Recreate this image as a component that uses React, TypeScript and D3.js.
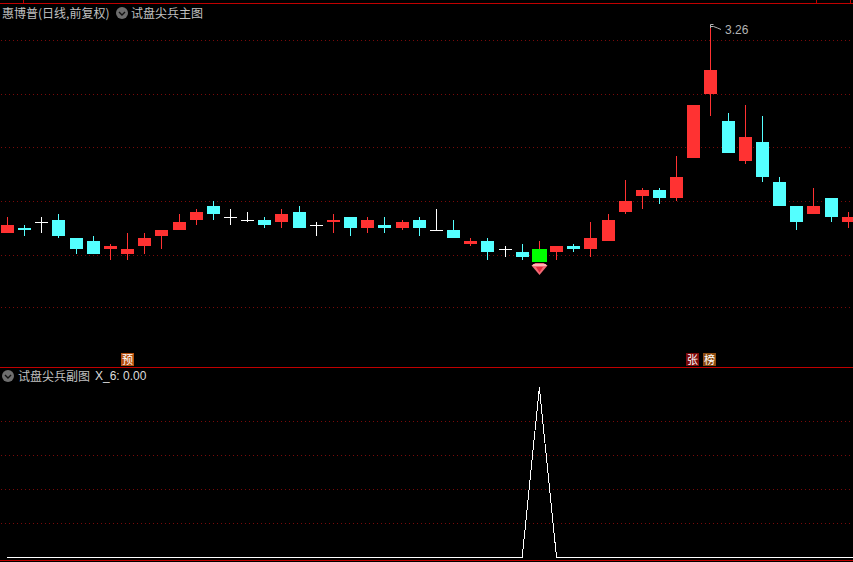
import React from "react";
import * as d3 from "d3";

// daily bars (prices in yuan)
const opens = [2.49, 2.51, 2.53, 2.54, 2.47, 2.46, 2.43, 2.41, 2.44, 2.48, 2.50, 2.54, 2.59, 2.55, 2.54, 2.54, 2.53, 2.57, 2.52, 2.53, 2.55, 2.51, 2.52, 2.51, 2.54, 2.50, 2.50, 2.45, 2.46, 2.43, 2.42, 2.43, 2.42, 2.44, 2.43, 2.46, 2.57, 2.63, 2.65, 2.62, 2.77, 3.01, 2.91, 2.76, 2.83, 2.68, 2.59, 2.56, 2.62, 2.53];
const closes = [2.52, 2.50, 2.53, 2.48, 2.43, 2.41, 2.44, 2.43, 2.47, 2.50, 2.53, 2.57, 2.56, 2.55, 2.54, 2.52, 2.56, 2.51, 2.52, 2.54, 2.51, 2.54, 2.51, 2.53, 2.51, 2.50, 2.47, 2.46, 2.42, 2.43, 2.40, 2.38, 2.44, 2.43, 2.47, 2.54, 2.61, 2.65, 2.62, 2.70, 2.97, 3.10, 2.79, 2.85, 2.70, 2.59, 2.53, 2.59, 2.55, 2.55];
const highs = [2.55, 2.52, 2.55, 2.56, 2.47, 2.48, 2.45, 2.49, 2.49, 2.50, 2.56, 2.58, 2.61, 2.58, 2.57, 2.55, 2.58, 2.59, 2.53, 2.56, 2.55, 2.55, 2.55, 2.54, 2.55, 2.58, 2.54, 2.47, 2.47, 2.44, 2.45, 2.46, 2.44, 2.45, 2.53, 2.56, 2.69, 2.66, 2.66, 2.78, 2.97, 3.26, 2.94, 2.97, 2.93, 2.70, 2.59, 2.66, 2.62, 2.57];
const lows = [2.49, 2.48, 2.49, 2.47, 2.41, 2.41, 2.39, 2.39, 2.41, 2.43, 2.50, 2.52, 2.54, 2.52, 2.53, 2.51, 2.51, 2.51, 2.48, 2.49, 2.48, 2.49, 2.49, 2.50, 2.48, 2.50, 2.47, 2.44, 2.39, 2.40, 2.39, 2.38, 2.39, 2.42, 2.40, 2.46, 2.56, 2.58, 2.60, 2.61, 2.77, 2.93, 2.79, 2.75, 2.68, 2.59, 2.50, 2.56, 2.53, 2.51];
// 1 on the signal day; the last entry is the bar just past the right edge
const signal = [0, 0, 0, 0, 0, 0, 0, 0, 0, 0, 0, 0, 0, 0, 0, 0, 0, 0, 0, 0, 0, 0, 0, 0, 0, 0, 0, 0, 0, 0, 0, 1, 0, 0, 0, 0, 0, 0, 0, 0, 0, 0, 0, 0, 0, 0, 0, 0, 0, 0, 0];
const priceGrid = [3.21, 3.01, 2.81, 2.61, 2.405, 2.21];
const signalGrid = [0.8, 0.6, 0.4, 0.2];
const signalIndex = 31;
const highIndex = 41;
const tags = [
  { index: 7, text: "预", fill: "#b4500f" },
  { index: 40, text: "张", fill: "#7d0a0a" },
  { index: 41, text: "榜", fill: "#8c4a0f" },
];

const RED = "#ff3232";
const CYAN = "#54ffff";
const DIVIDER = "#c00000";
const GRID = "#7a0a0a";
const cjk = "'Noto Sans CJK SC', sans-serif";
const latin = "'Liberation Sans', Arial, sans-serif";

const x = d3.scaleLinear().domain([0, 50]).range([7.4, 865.4]);
// the tags sit a hair left of the candles
const xTag = d3.scaleLinear().domain([0, 50]).range([7.2, 864.2]);
const y = d3.scaleLinear().domain([3.26, 2.0]).range([27.5, 363.9]);
const ySub = d3.scaleLinear().domain([0, 1]).range([557.5, 387.5]);

function Chevron({ cx, cy }: { cx: number; cy: number }) {
  return (
    <g>
      <circle cx={cx} cy={cy} r={6} fill="#6e6e6e" />
      <path d={`M${cx - 3},${cy - 1}L${cx},${cy + 2}L${cx + 3},${cy - 1}`} fill="none" stroke="#111" strokeWidth={1.4} />
    </g>
  );
}

function Candle({ i }: { i: number }) {
  const cx = Math.floor(x(i));
  const o = opens[i];
  const c = closes[i];
  const isSignal = i === signalIndex;
  const color = c > o ? RED : c < o ? CYAN : "#ffffff";
  const top = Math.round(y(Math.max(o, c)));
  const bottom = Math.round(y(Math.min(o, c)));
  const half = isSignal ? 7.5 : 6.5;
  return (
    <g shapeRendering="crispEdges">
      <line
        x1={cx + 0.5}
        x2={cx + 0.5}
        y1={Math.round(y(highs[i]))}
        y2={Math.round(y(lows[i]))}
        stroke={isSignal ? RED : color}
      />
      {c === o ? (
        <line x1={cx - 6} x2={cx + 7} y1={top + 0.5} y2={top + 0.5} stroke={color} />
      ) : (
        <rect
          x={cx + 0.5 - half}
          y={top}
          width={half * 2}
          height={bottom - top}
          fill={isSignal ? "#00ff00" : color}
        />
      )}
    </g>
  );
}

export default function App() {
  const line = d3
    .line<number>()
    .x((_, i) => x(i))
    .y((d) => ySub(d));

  const gemX = Math.floor(x(signalIndex)) + 0.5;
  const gemY = y(lows[signalIndex]);
  const hx = Math.floor(x(highIndex)) + 0.5;
  const hy = Math.round(y(highs[highIndex]));

  return (
    <svg
      width={853}
      height={562}
      style={{ position: "fixed", left: 0, top: 0, background: "#000", display: "block" }}
    >
      <rect width={853} height={562} fill="#000" />

      {/* frame */}
      <g shapeRendering="crispEdges" stroke={DIVIDER}>
        <line x1={0} x2={853} y1={3.5} y2={3.5} />
        <line x1={23.5} x2={23.5} y1={0} y2={3} />
        <line x1={816.5} x2={816.5} y1={0} y2={3} />
        <line x1={850.5} x2={850.5} y1={0} y2={3} />
        <line x1={0} x2={853} y1={367.5} y2={367.5} />
        <line x1={0} x2={853} y1={560.5} y2={560.5} />
      </g>

      {/* grid */}
      <g stroke={GRID} strokeDasharray="1 3" shapeRendering="crispEdges">
        {priceGrid.map((p) => (
          <line key={p} x1={1} x2={851} y1={Math.floor(y(p)) + 0.5} y2={Math.floor(y(p)) + 0.5} />
        ))}
        {signalGrid.map((v) => (
          <line key={v} x1={1} x2={851} y1={Math.floor(ySub(v)) + 0.5} y2={Math.floor(ySub(v)) + 0.5} />
        ))}
      </g>

      {opens.map((_, i) => (
        <Candle key={i} i={i} />
      ))}

      {/* signal gem */}
      <g transform={`translate(${gemX},${gemY})`}>
        <path d="M-8,3L-4,0.5L4,0.5L8,3L0,12.5Z" fill="#f26a74" />
        <path d="M-6,1.5L6,1.5L7.5,3.5L-7.5,3.5Z" fill="#ffb4b4" />
        <path d="M-3.5,4.5L3.5,4.5L0,10Z" fill="#e0283c" />
      </g>

      {/* high marker */}
      <g stroke="#b4b4b4" fill="none">
        <path d={`M${hx},${hy}V${hy - 3.5}H${hx + 3}`} />
        <path d={`M${hx + 0.5},${hy - 1.5}H${hx + 3}L${hx + 7},${hy}L${hx + 10.5},${hy + 1.5}`} />
      </g>
      <text x={725} y={34} fill="#b4b4b4" fontFamily={latin} fontSize={12}>
        3.26
      </text>

      {/* tags along the bottom of the main panel */}
      {tags.map((t) => {
        const left = Math.floor(xTag(t.index)) - 6;
        return (
          <g key={t.text}>
            <rect x={left} y={353} width={13} height={13} fill={t.fill} shapeRendering="crispEdges" />
            <text x={left + 6.5} y={363.5} textAnchor="middle" fill="#fff" fontFamily={cjk} fontSize={11}>
              {t.text}
            </text>
          </g>
        );
      })}

      {/* titles */}
      <text x={2} y={18} fill="#c0c0c0" fontFamily={cjk} fontSize={12}>
        惠博普(日线,前复权)
      </text>
      <Chevron cx={122} cy={13} />
      <text x={131} y={18} fill="#c0c0c0" fontFamily={cjk} fontSize={12}>
        试盘尖兵主图
      </text>
      <Chevron cx={8} cy={376} />
      <text x={18} y={381} fill="#c0c0c0" fontFamily={cjk} fontSize={12}>
        试盘尖兵副图
      </text>
      <text x={95} y={380} fill="#dcdcdc" fontFamily={latin} fontSize={12}>
        X_6: 0.00
      </text>

      {/* lower panel line */}
      <path d={line(signal) || ""} fill="none" stroke="#fff" strokeWidth={1} shapeRendering="crispEdges" />
    </svg>
  );
}
